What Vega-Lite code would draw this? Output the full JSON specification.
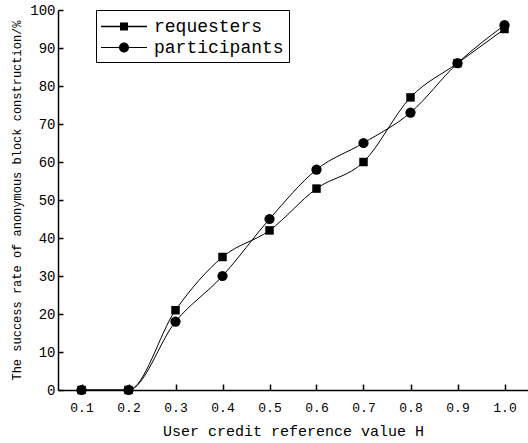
{
  "$schema": "https://vega.github.io/schema/vega-lite/v6.json",
  "width": 470,
  "height": 380,
  "autosize": {"type": "none"},
  "padding": {"left": 58, "top": 10, "right": 0, "bottom": 53},
  "background": "white",
  "config": {
    "view": {"stroke": null},
    "font": "Liberation Mono",
    "axis": {
      "grid": false,
      "domainColor": "black",
      "domainWidth": 1.5,
      "tickColor": "black",
      "tickWidth": 1.5,
      "labelColor": "black",
      "titleColor": "black",
      "labelFont": "Liberation Mono",
      "titleFont": "Liberation Mono",
      "titleFontWeight": "normal"
    }
  },
  "data": {
    "values": [
      {"H": 0.1, "rate": 0, "series": "requesters"},
      {"H": 0.2, "rate": 0, "series": "requesters"},
      {"H": 0.3, "rate": 21, "series": "requesters"},
      {"H": 0.4, "rate": 35, "series": "requesters"},
      {"H": 0.5, "rate": 42, "series": "requesters"},
      {"H": 0.6, "rate": 53, "series": "requesters"},
      {"H": 0.7, "rate": 60, "series": "requesters"},
      {"H": 0.8, "rate": 77, "series": "requesters"},
      {"H": 0.9, "rate": 86, "series": "requesters"},
      {"H": 1.0, "rate": 95, "series": "requesters"},
      {"H": 0.1, "rate": 0, "series": "participants"},
      {"H": 0.2, "rate": 0, "series": "participants"},
      {"H": 0.3, "rate": 18, "series": "participants"},
      {"H": 0.4, "rate": 30, "series": "participants"},
      {"H": 0.5, "rate": 45, "series": "participants"},
      {"H": 0.6, "rate": 58, "series": "participants"},
      {"H": 0.7, "rate": 65, "series": "participants"},
      {"H": 0.8, "rate": 73, "series": "participants"},
      {"H": 0.9, "rate": 86, "series": "participants"},
      {"H": 1.0, "rate": 96, "series": "participants"}
    ]
  },
  "encoding": {
    "x": {
      "field": "H",
      "type": "quantitative",
      "scale": {"domain": [0.05, 1.05], "nice": false, "zero": false},
      "axis": {
        "title": "User credit reference value H",
        "values": [0.1, 0.2, 0.3, 0.4, 0.5, 0.6, 0.7, 0.8, 0.9, 1.0],
        "format": ".1f",
        "tickSize": -6,
        "labelPadding": 17,
        "labelFontSize": 13,
        "titleFontSize": 15,
        "titlePadding": 9
      }
    },
    "y": {
      "field": "rate",
      "type": "quantitative",
      "scale": {"domain": [0, 100], "nice": false},
      "axis": {
        "title": "The success rate of anonymous block construction/%",
        "values": [0, 10, 20, 30, 40, 50, 60, 70, 80, 90, 100],
        "tickSize": -5,
        "labelPadding": 8,
        "labelFontSize": 14,
        "titleFontSize": 12,
        "titlePadding": 6
      }
    }
  },
  "layer": [
    {
      "mark": {"type": "line", "interpolate": "monotone", "color": "black", "strokeWidth": 1},
      "encoding": {"detail": {"field": "series"}}
    },
    {
      "mark": {"type": "point", "filled": true, "color": "black", "opacity": 1},
      "encoding": {
        "shape": {
          "field": "series",
          "scale": {"domain": ["requesters", "participants"], "range": ["square", "circle"]},
          "legend": null
        },
        "size": {
          "field": "series",
          "scale": {"domain": ["requesters", "participants"], "range": [72, 105]},
          "legend": null
        }
      }
    },
    {
      "mark": {"type": "point", "filled": true, "color": "black", "opacity": 0},
      "encoding": {
        "shape": {
          "field": "series",
          "scale": {
            "domain": ["requesters", "participants"],
            "range": [
              "M-1,-0.06H3V0.06H-1Z M0.652,-0.348H1.348V0.348H0.652Z",
              "M-1,-0.05H3V0.05H-1Z M1.435,0A0.435,0.435 0 1,1 0.565,0A0.435,0.435 0 1,1 1.435,0Z"
            ]
          },
          "legend": {
            "title": null,
            "orient": "none",
            "legendX": 38,
            "legendY": 0,
            "strokeColor": "black",
            "padding": 5,
            "symbolSize": 529,
            "symbolStrokeWidth": 0,
            "symbolFillColor": "black",
            "labelFontSize": 18,
            "labelFont": "Liberation Mono",
            "labelColor": "black",
            "labelOffset": 30,
            "rowPadding": 0,
            "encode": {
              "symbols": {"update": {"opacity": {"value": 1}, "fill": {"value": "black"}, "stroke": {"value": "transparent"}}},
              "legend": {"update": {"strokeWidth": {"value": 1.5}}}
            }
          }
        }
      }
    }
  ],
  "resolve": {"scale": {"shape": "independent"}, "legend": {"shape": "independent"}}
}
